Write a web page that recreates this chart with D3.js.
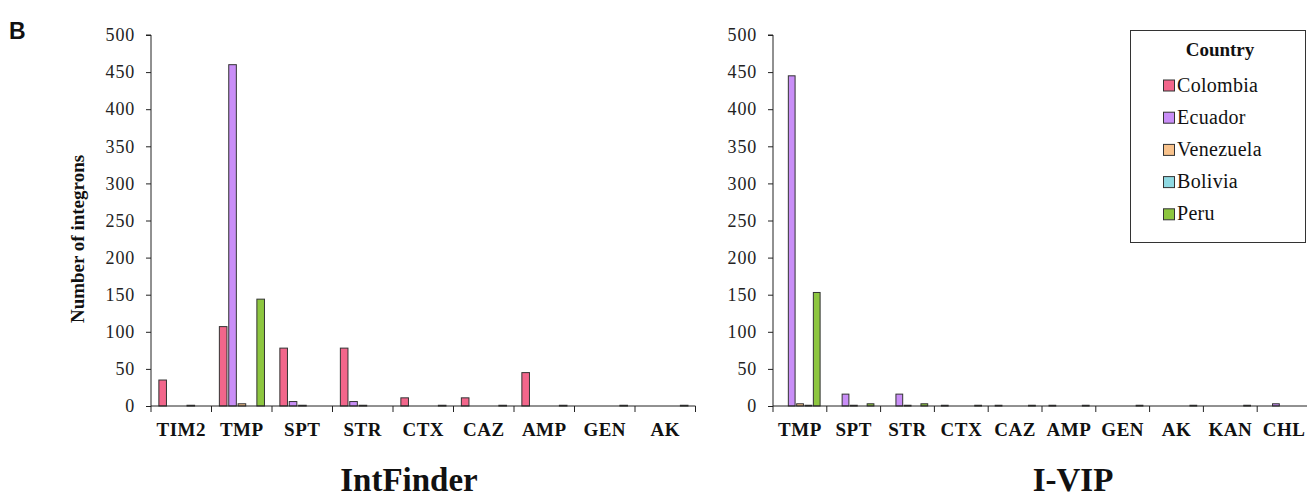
<!DOCTYPE html>
<html>
<head>
<meta charset="utf-8">
<script src="https://cdn.jsdelivr.net/npm/d3@7"></script>
<style>
  html, body { margin: 0; padding: 0; background: #fff; }
  svg { display: block; }
</style>
</head>
<body>
<svg id="chart" width="1307" height="497"></svg>
<script>
// Countries and their bar colours
const countries = ["Colombia", "Ecuador", "Venezuela", "Bolivia", "Peru"];
const countryColors = ["#f2668b", "#c98ef7", "#f8c28c", "#8fd9e2", "#8dc63f"];

// IntFinder panel
const intFinderGenes = ["TIM2", "TMP", "SPT", "STR", "CTX", "CAZ", "AMP", "GEN", "AK"];
const intFinderColombia  = [35, 107, 78, 78, 11, 11, 45, 0, 0];
const intFinderEcuador   = [0, 460, 6, 6, 0, 0, 0, 0, 0];
const intFinderVenezuela = [0, 3, 1, 1, 0, 0, 0, 0, 0];
const intFinderBolivia   = [1, 0, 0, 0, 0, 0, 0, 0, 0];
const intFinderPeru      = [0, 144, 0, 0, 1, 1, 1, 1, 1];

// I-VIP panel
const ivipGenes = ["TMP", "SPT", "STR", "CTX", "CAZ", "AMP", "GEN", "AK", "KAN", "CHL"];
const ivipColombia  = [0, 0, 0, 1, 1, 1, 0, 0, 0, 0];
const ivipEcuador   = [445, 16, 16, 0, 0, 0, 0, 0, 0, 3];
const ivipVenezuela = [3, 1, 1, 0, 0, 0, 0, 0, 0, 0];
const ivipBolivia   = [1, 0, 0, 0, 0, 0, 0, 0, 0, 0];
const ivipPeru      = [153, 3, 3, 1, 1, 1, 1, 1, 1, 0];

// Axis ticks
const yTicks = [0, 50, 100, 150, 200, 250, 300, 350, 400, 450, 500];

const svg = d3.select("#chart");
const serif = "'Liberation Serif', 'Times New Roman', serif";
const color = d3.scaleOrdinal().domain(countries).range(countryColors);

function drawPanel(opts) {
  const { genes, series, x0, x1Len, title, titleX, showYTitle } = opts;
  const top = 35, bottom = 406;
  const x = d3.scaleBand().domain(genes).range([x0, x0 + x1Len * genes.length]).padding(0);
  const y = d3.scaleLinear().domain([0, 500]).range([bottom, top]);
  const s = x.step();
  const xc = d3.scaleBand().domain(countries)
    .range([0.13 * s, 0.13 * s + 0.7456 * s]).paddingInner(0.19).paddingOuter(0);

  const g = svg.append("g");

  // bars
  const rows = [];
  genes.forEach((gene, i) => {
    countries.forEach((c, k) => {
      const v = series[k][i];
      if (v > 0) rows.push({ gene, country: c, value: v });
    });
  });
  g.selectAll("rect.bar").data(rows).join("rect")
    .attr("class", "bar")
    .attr("x", d => x(d.gene) + xc(d.country))
    .attr("y", d => y(d.value))
    .attr("width", xc.bandwidth())
    .attr("height", d => Math.max(bottom - y(d.value), 0.8))
    .attr("fill", d => color(d.country))
    .attr("stroke", "#333")
    .attr("stroke-width", 1);

  // y axis
  const yAxis = d3.axisLeft(y).tickValues(yTicks).tickSize(5).tickPadding(11);
  const ya = g.append("g").attr("transform", `translate(${x0},0)`).call(yAxis);
  ya.attr("font-family", serif);
  ya.select(".domain").attr("stroke", "#222").attr("d", `M-5,${top}H0V${bottom}`);
  ya.selectAll(".tick line").attr("stroke", "#222");
  ya.selectAll(".tick text")
    .attr("font-family", serif).attr("font-size", 18).attr("letter-spacing", 0.8).attr("fill", "#222");

  // x axis: labels at band centres, ticks at band boundaries
  const xAxis = d3.axisBottom(x).tickSize(0).tickPadding(17);
  const xa = g.append("g").attr("transform", `translate(0,${bottom})`).call(xAxis);
  xa.attr("font-family", serif);
  xa.select(".domain").remove();
  xa.selectAll(".tick text")
    .attr("font-family", serif).attr("font-size", 19).attr("font-weight", "bold")
    .attr("letter-spacing", 0.5).attr("fill", "#111");
  const r = x.range();
  g.append("line").attr("x1", r[0]).attr("x2", r[1]).attr("y1", bottom).attr("y2", bottom)
    .attr("stroke", "#222");
  const bounds = genes.map(d => x(d)).concat([r[1]]);
  g.selectAll("line.xtick").data(bounds).join("line")
    .attr("class", "xtick")
    .attr("x1", d => d).attr("x2", d => d)
    .attr("y1", bottom).attr("y2", bottom + 6)
    .attr("stroke", "#222");

  // panel title
  g.append("text").attr("x", titleX).attr("y", 491).attr("text-anchor", "middle")
    .attr("font-family", serif).attr("font-size", 33).attr("font-weight", "bold").attr("fill", "#111")
    .text(title);

  if (showYTitle) {
    g.append("text")
      .attr("transform", `translate(84,239) rotate(-90)`)
      .attr("text-anchor", "middle")
      .attr("font-family", serif).attr("font-size", 19).attr("font-weight", "bold").attr("fill", "#111")
      .text("Number of integrons");
  }
}

drawPanel({
  genes: intFinderGenes,
  series: [intFinderColombia, intFinderEcuador, intFinderVenezuela, intFinderBolivia, intFinderPeru],
  x0: 151, x1Len: 60.5, title: "IntFinder", titleX: 409, showYTitle: true
});

drawPanel({
  genes: ivipGenes,
  series: [ivipColombia, ivipEcuador, ivipVenezuela, ivipBolivia, ivipPeru],
  x0: 773, x1Len: 53.8, title: "I-VIP", titleX: 1073, showYTitle: false
});

// panel letter
svg.append("text").attr("x", 9).attr("y", 39)
  .attr("font-family", "'Liberation Sans', Arial, sans-serif").attr("font-size", 23)
  .attr("font-weight", "bold").attr("fill", "#111").text("B");

// legend
const legend = svg.append("g");
legend.append("rect").attr("x", 1130.5).attr("y", 30.5).attr("width", 175).attr("height", 212)
  .attr("fill", "#fff").attr("stroke", "#333").attr("stroke-width", 1);
legend.append("text").attr("x", 1220).attr("y", 56).attr("text-anchor", "middle")
  .attr("font-family", serif).attr("font-size", 19).attr("font-weight", "bold").attr("fill", "#111")
  .text("Country");
const items = legend.selectAll("g.item").data(countries).join("g")
  .attr("class", "item")
  .attr("transform", (d, i) => `translate(1163,${91.5 + i * 32.2})`);
items.append("rect").attr("x", 0.5).attr("y", -11.5).attr("width", 11).attr("height", 11)
  .attr("fill", d => color(d)).attr("stroke", "#333");
items.append("text").attr("x", 14).attr("y", 0)
  .attr("font-family", serif).attr("font-size", 20).attr("letter-spacing", 0.3).attr("fill", "#111")
  .text(d => d);
</script>
</body>
</html>
